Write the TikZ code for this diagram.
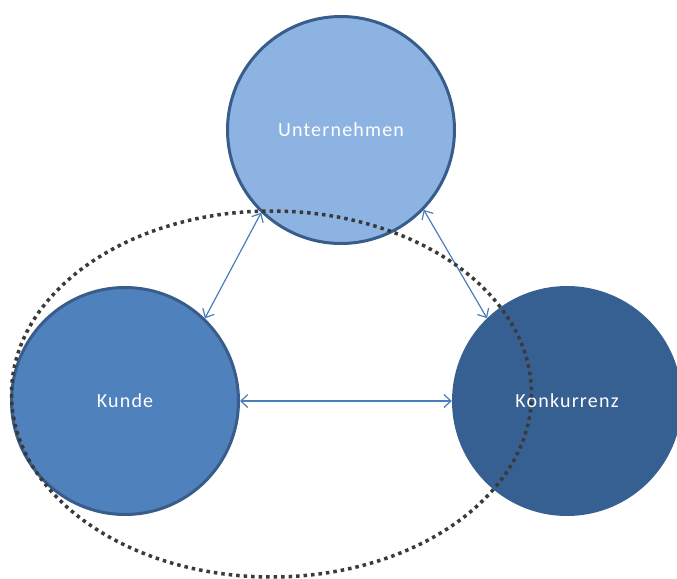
\documentclass[tikz,border=0pt]{standalone}
\usepackage{fontspec}
\setmainfont{Carlito}[LetterSpace=6]
\usetikzlibrary{arrows.meta}
\definecolor{lightfill}{HTML}{8DB3E2}
\definecolor{midfill}{HTML}{4F81BD}
\definecolor{darkfill}{HTML}{376092}
\definecolor{rimblue}{HTML}{385D8A}
\definecolor{linkblue}{HTML}{4A7EBB}
\definecolor{dotgrey}{HTML}{3A3A3A}
\tikzset{
  bubble/.style={circle, minimum size=#1, inner sep=0pt, text=white,
    font=\fontsize{20}{24}\selectfont},
  link/.style={draw=linkblue, line width=1.2pt,
    {Straight Barb[length=7pt,width=13pt]}-{Straight Barb[length=7pt,width=13pt]}},
}
\begin{document}
\begin{tikzpicture}[x=1pt,y=-1pt]
  \useasboundingbox (0,0) rectangle (677,578);
  \clip (0,0) rectangle (677,578);
  % three parties
  \node[bubble=227pt, fill=lightfill, draw=rimblue, line width=3pt] (u) at (341,130) {Unternehmen};
  \node[bubble=227pt, fill=midfill, draw=rimblue, line width=3pt] (k) at (125,401) {Kunde};
  \node[bubble=230pt, fill=darkfill] (c) at (567,401) {Konkurrenz};
  % relations between them
  \draw[link] (u.226) -- (k.46);
  \draw[link] (u.-44) -- (c.134);
  \draw[link] (k.east) -- (c.west);
  % market boundary
  \draw[dotgrey, line width=3.5pt, dash pattern=on 3.5pt off 4pt]
    (271.5,394) ellipse [x radius=260, y radius=183];
\end{tikzpicture}
\end{document}
